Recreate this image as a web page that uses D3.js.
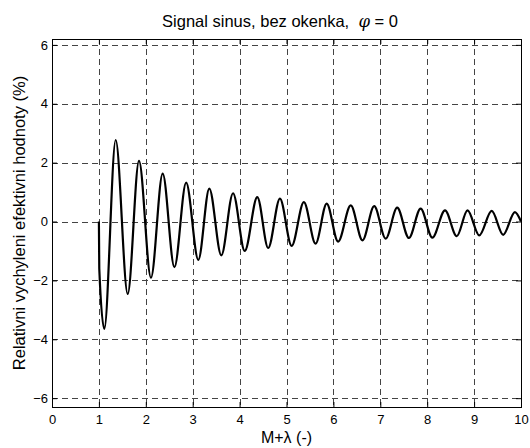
<!DOCTYPE html>
<html>
<head>
<meta charset="UTF-8">
<script src="https://d3js.org/d3.v7.min.js"></script>
<style>
  body { margin: 0; background: #fff; }
  svg { font-family: "Liberation Sans", Arial, sans-serif; }
</style>
</head>
<body>
<svg width="530" height="448"></svg>
<script>
// extrema of the curve (M+lambda, %)
const xVals = [1.0, 1.008, 1.115, 1.358, 1.614, 1.855, 2.11, 2.36, 2.61, 2.86, 3.12, 3.354, 3.61, 3.86,
  4.11, 4.377, 4.61, 4.86, 5.11, 5.37, 5.62, 5.857, 6.10, 6.37, 6.62, 6.87, 7.115, 7.36, 7.61, 7.86,
  8.11, 8.38, 8.63, 8.86, 9.11, 9.375, 9.62, 9.87, 10.0];
const yVals = [0, -1.6, -3.65, 2.77, -2.46, 2.06, -1.91, 1.63, -1.55, 1.32, -1.30, 1.12, -1.15, 0.96,
  -1.0, 0.83, -0.90, 0.78, -0.83, 0.66, -0.75, 0.61, -0.68, 0.55, -0.64, 0.52, -0.58, 0.47, -0.56, 0.44,
  -0.55, 0.38, -0.50, 0.38, -0.47, 0.36, -0.45, 0.32, 0.0];

const xTicks = [0, 1, 2, 3, 4, 5, 6, 7, 8, 9, 10];
const yTicks = [-6, -4, -2, 0, 2, 4, 6];

const title = "Signal sinus, bez okenka,\u00a0\u00a0";
const xLabel = "M+\u03bb (-)";
const yLabel = "Relativni vychyleni efektivni hodnoty (%)";

const svg = d3.select("svg");
const margin = { top: 39, right: 9, bottom: 41, left: 52 };
const width = 530 - margin.left - margin.right;
const height = 448 - margin.top - margin.bottom;

const x = d3.scaleLinear().domain([0, 10]).range([0, width]);
const y = d3.scaleLinear().domain([-6.3, 6.2]).range([height, 0]);

const g = svg.append("g").attr("transform", `translate(${margin.left},${margin.top})`);

// grid
g.selectAll(".gx").data(xTicks.filter(d => d > 0 && d < 10)).enter()
  .append("line")
  .attr("x1", d => Math.round(x(d)) + 0.5).attr("x2", d => Math.round(x(d)) + 0.5)
  .attr("y1", 0).attr("y2", height)
  .attr("stroke", "#444").attr("stroke-dasharray", "6,4");
g.selectAll(".gy").data(yTicks).enter()
  .append("line")
  .attr("y1", d => Math.round(y(d)) + 0.5).attr("y2", d => Math.round(y(d)) + 0.5)
  .attr("x1", 0).attr("x2", width)
  .attr("stroke", "#444").attr("stroke-dasharray", "6,4");

// curve
const pts = xVals.map((d, i) => [d, yVals[i]]);
const line = d3.line().x(d => x(d[0])).y(d => y(d[1])).curve(d3.curveMonotoneX);
g.append("path").datum(pts)
  .attr("d", line)
  .attr("fill", "none")
  .attr("stroke", "#000")
  .attr("stroke-width", 2.2)
  .attr("stroke-linejoin", "round");

// axes with inward ticks on all four sides
const axB = d3.axisBottom(x).tickValues(xTicks).tickSize(-5).tickPadding(8);
const axT = d3.axisTop(x).tickValues(xTicks).tickSize(-5).tickFormat("");
const axL = d3.axisLeft(y).tickValues(yTicks).tickSize(-5).tickPadding(4);
const axR = d3.axisRight(y).tickValues(yTicks).tickSize(-5).tickFormat("");

function style(sel) {
  sel.select(".domain").remove();
  sel.selectAll("line").attr("stroke", "#000");
  sel.selectAll("text").attr("fill", "#000").style("font-size", "13px");
}
g.append("g").attr("transform", `translate(0,${height})`).call(axB).call(style);
g.append("g").call(axT).call(style);
g.append("g").call(axL).call(style);
g.append("g").attr("transform", `translate(${width},0)`).call(axR).call(style);

g.append("rect")
  .attr("x", 0.5).attr("y", 0.5)
  .attr("width", width).attr("height", height)
  .attr("fill", "none").attr("stroke", "#000");

// labels
const t = svg.append("text")
  .attr("x", 280).attr("y", 27)
  .attr("text-anchor", "middle").style("font-size", "16.5px");
t.append("tspan").text(title);
t.append("tspan").style("font-family", "'DejaVu Serif', serif").style("font-style", "italic").text("\u03c6");
t.append("tspan").text(" = 0");

svg.append("text")
  .attr("x", margin.left + width / 2).attr("y", 443)
  .attr("text-anchor", "middle").style("font-size", "16px")
  .text(xLabel);

svg.append("text")
  .attr("transform", `translate(25,${margin.top + height / 2}) rotate(-90)`)
  .attr("text-anchor", "middle").style("font-size", "16.5px")
  .text(yLabel);
</script>
</body>
</html>
